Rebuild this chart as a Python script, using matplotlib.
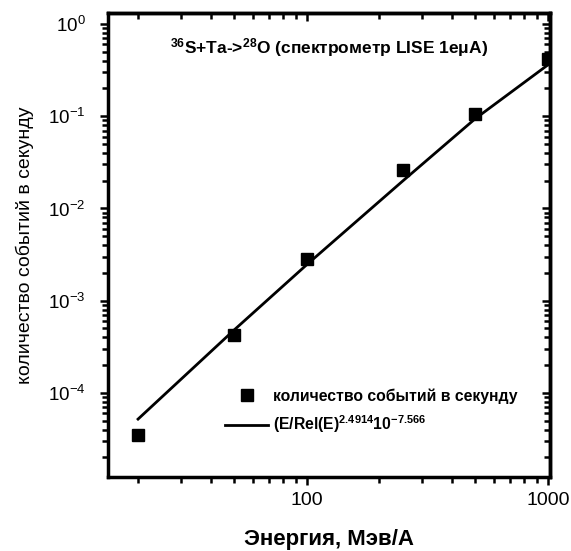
import numpy as np
import matplotlib.pyplot as plt
from matplotlib.ticker import LogLocator, FixedLocator, NullFormatter

plt.rcParams['font.family'] = ['Liberation Sans', 'DejaVu Sans']
plt.rcParams['mathtext.default'] = 'regular'

# measured points
energy = [20, 50, 100, 250, 500, 1000]
rate = [3.5e-5, 4.2e-4, 2.85e-3, 0.026, 0.105, 0.42]

# fit line
fit_e = [20, 50, 100, 250, 500, 1000]
fit_r = [5.2e-5, 4.8e-4, 2.45e-3, 0.0198, 0.094, 0.36]

fig = plt.figure(figsize=(5.71, 5.51), dpi=100)
ax = fig.add_axes([0.189, 0.134, 0.774, 0.842])

ax.plot(energy, rate, 's', color='black', markersize=9, linestyle='none',
        label='количество событий в секунду')
ax.plot(fit_e, fit_r, '-', color='black', linewidth=2,
        label=r'(E/Rel(E)$^{2.4914}$10$^{-7.566}$')

ax.set_xscale('log')
ax.set_yscale('log')
ax.set_xlim(15, 1020)
ax.set_ylim(1.22e-5, 1.31)

for s in ax.spines.values():
    s.set_linewidth(2.5)

ax.xaxis.set_major_locator(FixedLocator([100, 1000]))
ax.set_xticklabels(['100', '1000'])
ax.xaxis.set_minor_locator(LogLocator(base=10, subs=np.arange(2, 10)))
ax.xaxis.set_minor_formatter(NullFormatter())
ax.yaxis.set_major_locator(FixedLocator([1e-4, 1e-3, 1e-2, 1e-1, 1]))
ax.set_yticklabels([r'10$^{-4}$', r'10$^{-3}$', r'10$^{-2}$', r'10$^{-1}$', r'10$^{0}$'])
ax.yaxis.set_minor_locator(LogLocator(base=10, subs=np.arange(2, 10)))
ax.yaxis.set_minor_formatter(NullFormatter())

ax.tick_params(which='both', direction='out', width=1.8)
ax.tick_params(which='major', length=6)
ax.tick_params(which='minor', length=4)
ax.tick_params(axis='y', labelsize=13.5, pad=10)
ax.tick_params(axis='x', labelsize=14, pad=5)

# inward ticks on top and right
ax_t = ax.secondary_xaxis('top')
ax_t.xaxis.set_major_locator(FixedLocator([100, 1000]))
ax_t.xaxis.set_minor_locator(LogLocator(base=10, subs=np.arange(2, 10)))
ax_t.tick_params(which='both', direction='in', width=1.8, labeltop=False)
ax_t.tick_params(which='major', length=6)
ax_t.tick_params(which='minor', length=4)
ax_t.xaxis.set_major_formatter(NullFormatter())
ax_t.xaxis.set_minor_formatter(NullFormatter())
ax_r = ax.secondary_yaxis('right')
ax_r.yaxis.set_major_locator(FixedLocator([1e-4, 1e-3, 1e-2, 1e-1, 1]))
ax_r.yaxis.set_minor_locator(LogLocator(base=10, subs=np.arange(2, 10)))
ax_r.tick_params(which='both', direction='in', width=1.8, labelright=False)
ax_r.tick_params(which='major', length=6)
ax_r.tick_params(which='minor', length=4)
ax_r.yaxis.set_major_formatter(NullFormatter())
ax_r.yaxis.set_minor_formatter(NullFormatter())
for sa in (ax_t, ax_r):
    for s in sa.spines.values():
        s.set_linewidth(2.5)

ax.text(0.5, 0.925, r'$^{36}$S+Ta->$^{28}$O (спектрометр LISE 1eμA)',
        transform=ax.transAxes, ha='center', va='center',
        fontsize=12.5, fontweight='bold')

ax.set_xlabel('Энергия, Мэв/А', fontsize=16, fontweight='bold', labelpad=14)
ax.set_ylabel('количество событий в секунду', fontsize=14, labelpad=10)

leg = ax.legend(loc='upper left', bbox_to_anchor=(0.265, 0.192), frameon=False,
                prop={'weight': 'bold', 'size': 11.3}, handlelength=2.75,
                handletextpad=0.3, borderaxespad=0, borderpad=0,
                labelspacing=0.65)

fig.savefig('out.png', dpi=100)
